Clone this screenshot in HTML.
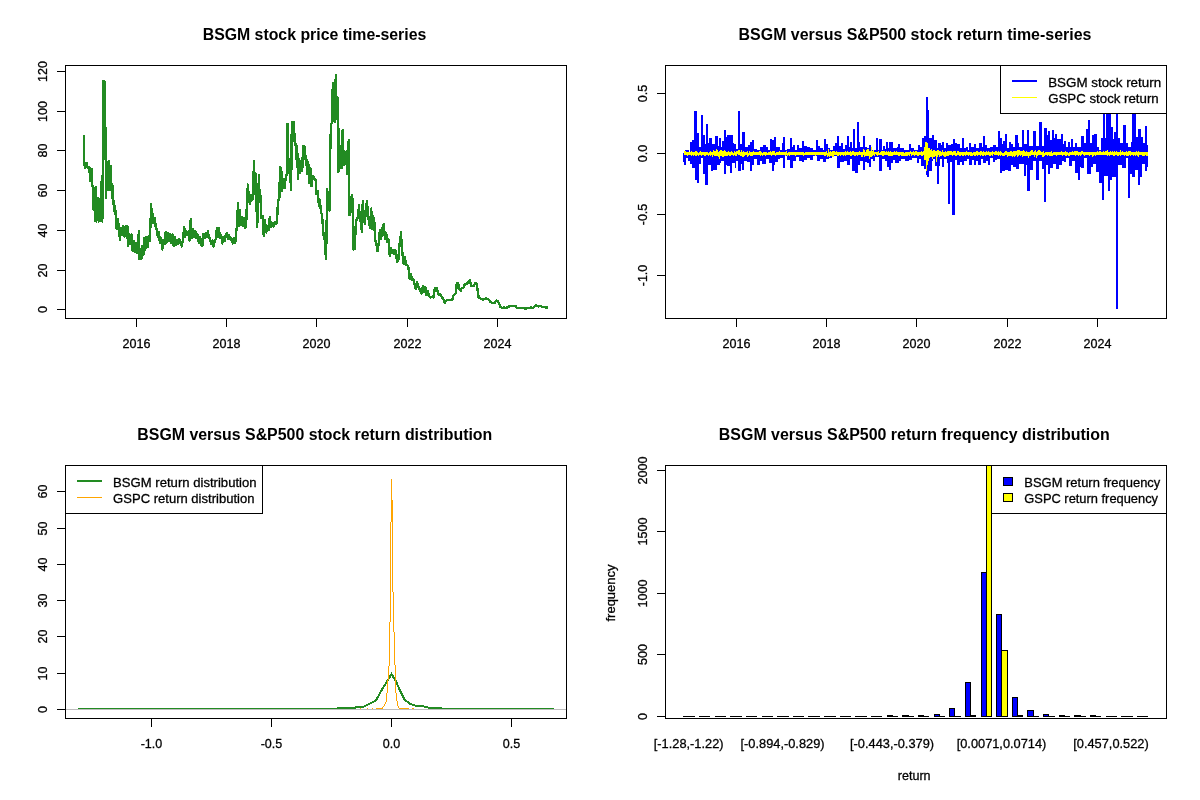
<!DOCTYPE html>
<html lang="en"><head><meta charset="utf-8"><title>BSGM versus S&amp;P500</title>
<style>html,body{margin:0;padding:0;background:#fff}svg{display:block}text{font-family:"Liberation Sans", sans-serif;fill:#000}.t{font-size:16px;font-weight:bold;text-anchor:middle}.a{font-size:13.6px;text-anchor:middle;stroke:#000;stroke-width:.3px}.l{font-size:13.6px;stroke:#000;stroke-width:.3px}.k{stroke:#000;stroke-width:1;fill:none;shape-rendering:crispEdges}</style></head><body>
<svg width="1200" height="800" viewBox="0 0 1200 800">
<rect x="0" y="0" width="1200" height="800" fill="#fff"/>
<text class="t" x="314.5" y="39.6" textLength="223.61" lengthAdjust="spacingAndGlyphs">BSGM stock price time-series</text>
<path d="M84.0 135.1 L84.0 159.5 L84.9 167.7 L86.7 163.3 L87.6 167.7 L89.4 167.5 L90.3 181.2 L92.1 169.3 L91.8 185.7 L93.0 185.8 L93.6 209.7 L94.5 200.8 L95.1 221.4 L95.7 187.0 L96.3 221.4 L97.5 197.8 L98.7 221.4 L99.3 199.3 L99.9 221.4 L100.8 212.0 L101.7 181.0 L102.3 221.4 L102.9 155.0 L103.5 80.8 L104.7 81.5 L105.3 125.0 L105.6 150.5 L106.2 198.4 L106.8 161.8 L108.0 190.2 L108.9 161.0 L109.8 190.2 L110.7 166.3 L111.6 190.9 L112.5 185.8 L112.8 203.7 L114.0 200.8 L114.9 214.2 L115.8 211.3 L116.7 228.9 L117.9 218.8 L119.1 230.0 L120.0 240.4 L120.9 227.8 L122.1 235.2 L123.3 226.3 L124.5 236.7 L125.7 226.3 L126.9 238.2 L127.5 226.3 L128.1 246.4 L129.3 233.8 L130.5 244.2 L131.7 234.5 L132.6 250.9 L133.8 241.3 L135.0 251.7 L136.2 242.8 L137.1 253.2 L138.0 248.0 L138.9 230.8 L139.5 259.2 L140.7 248.8 L141.3 259.2 L142.2 245.8 L143.4 254.7 L144.0 238.3 L145.2 250.2 L146.4 236.8 L147.6 247.2 L148.8 236.0 L149.7 241.2 L150.6 221.7 L151.2 203.8 L151.8 223.2 L152.7 214.3 L153.9 223.2 L154.8 218.0 L155.7 227.0 L156.9 230.0 L157.8 236.7 L159.0 232.3 L159.9 242.7 L161.1 238.3 L162.3 249.4 L163.5 239.8 L164.7 244.2 L165.6 232.3 L166.5 242.7 L167.7 233.0 L168.9 241.2 L170.1 234.5 L171.3 242.7 L172.5 234.5 L173.7 245.7 L174.6 236.8 L175.8 244.9 L177.0 239.8 L178.2 244.2 L179.4 239.0 L180.6 242.0 L181.8 246.4 L183.0 239.0 L184.2 227.0 L185.1 236.7 L186.3 230.8 L187.5 235.2 L188.7 231.5 L189.6 240.4 L190.8 218.8 L191.7 238.2 L192.9 229.3 L194.1 236.7 L195.3 230.8 L196.5 238.2 L197.7 234.5 L198.9 242.7 L200.1 236.8 L201.3 245.0 L202.5 245.7 L203.4 233.8 L204.6 238.2 L205.8 233.0 L207.0 236.7 L207.9 230.8 L208.8 238.2 L210.0 238.3 L211.2 244.2 L212.4 240.5 L213.6 246.4 L214.8 240.5 L216.0 239.0 L216.9 227.8 L217.8 236.7 L219.0 228.5 L219.9 238.2 L221.1 235.3 L222.3 243.4 L223.5 236.8 L224.7 241.2 L225.9 234.5 L226.8 233.0 L228.0 238.9 L229.2 235.3 L230.4 239.7 L231.6 238.3 L232.8 243.4 L234.0 238.3 L235.2 242.7 L236.4 230.0 L237.3 224.0 L237.9 203.0 L238.8 226.2 L239.7 209.8 L240.9 224.7 L241.8 217.3 L243.0 226.2 L244.2 218.0 L245.4 227.7 L246.3 221.0 L247.0 201.0 L247.9 184.5 L248.8 199.5 L250.0 203.9 L251.2 195.0 L252.4 199.4 L253.3 192.7 L253.9 161.3 L254.8 194.2 L255.4 173.3 L256.3 198.0 L257.2 227.2 L258.1 199.5 L259.0 175.5 L259.6 201.7 L260.5 195.8 L261.4 218.2 L262.6 216.0 L263.8 236.2 L265.0 220.5 L266.2 232.4 L267.4 225.8 L268.6 230.2 L269.8 216.8 L271.0 227.2 L272.2 222.8 L273.4 226.4 L274.6 222.0 L275.8 224.2 L277.0 222.0 L277.6 208.5 L278.5 199.5 L279.4 198.0 L280.0 167.3 L281.2 168.0 L282.1 191.2 L283.3 179.3 L284.5 188.2 L285.7 177.7 L286.9 174.0 L286.9 173.5 L287.5 124.0 L288.4 172.7 L289.3 159.3 L290.2 175.0 L291.1 189.6 L291.7 134.5 L292.6 121.8 L293.8 121.7 L294.7 142.0 L295.6 143.5 L296.5 159.2 L297.1 145.8 L298.0 178.7 L299.2 159.3 L300.1 172.7 L301.0 160.8 L302.2 171.2 L303.1 146.5 L304.3 145.8 L305.2 159.2 L306.1 156.3 L307.3 174.2 L308.2 162.3 L309.4 183.2 L310.3 168.3 L311.5 186.2 L312.4 175.8 L313.6 176.5 L314.8 179.5 L315.7 180.0 L316.6 194.2 L317.8 191.3 L319.0 206.2 L319.9 200.3 L321.1 213.0 L322.0 214.5 L323.2 231.0 L324.1 239.2 L325.0 239.3 L325.9 258.7 L326.5 237.0 L327.1 189.0 L327.7 209.2 L328.6 207.8 L329.5 210.7 L330.1 156.0 L331.0 124.0 L332.2 122.5 L332.8 82.8 L334.0 82.7 L334.6 121.7 L335.8 75.0 L336.4 118.7 L337.3 97.0 L338.2 100.7 L338.5 171.9 L339.7 167.5 L340.6 145.8 L341.8 168.2 L342.7 130.0 L343.6 165.2 L344.5 151.7 L346.0 151.8 L347.2 174.2 L347.8 146.5 L349.0 139.8 L349.0 214.5 L350.2 215.2 L351.1 199.5 L352.0 195.0 L352.9 202.5 L353.5 249.7 L354.7 249.0 L355.9 222.0 L357.1 218.2 L358.3 217.5 L358.9 204.8 L359.8 217.5 L361.0 223.5 L361.9 231.7 L362.8 201.0 L363.7 216.0 L364.9 224.2 L365.8 208.5 L367.0 201.0 L367.9 214.5 L368.8 220.5 L370.0 227.9 L371.2 208.5 L372.1 228.7 L373.0 216.0 L374.2 219.0 L375.1 240.7 L376.0 240.8 L377.5 251.2 L378.7 243.0 L379.9 230.3 L381.1 239.2 L382.3 228.0 L383.8 224.3 L385.0 239.2 L386.2 233.3 L387.4 242.2 L388.6 239.3 L389.8 255.7 L391.0 248.3 L392.2 252.7 L393.4 249.8 L394.6 254.2 L395.8 250.5 L397.0 261.7 L398.2 261.0 L399.4 245.3 L399.2 244.2 L400.1 243.5 L401.0 232.3 L401.6 245.0 L402.5 254.0 L403.7 263.7 L404.9 257.0 L406.1 265.2 L407.3 265.3 L408.5 267.5 L409.7 278.7 L410.9 274.3 L412.1 280.2 L413.3 278.8 L414.5 284.0 L415.7 289.2 L416.9 281.8 L417.8 284.0 L419.0 288.5 L420.2 290.0 L421.4 293.7 L422.9 286.3 L424.1 292.2 L425.3 287.0 L426.5 295.2 L427.7 290.8 L428.9 296.0 L430.4 297.4 L431.9 296.8 L433.4 297.4 L434.9 287.7 L436.4 287.7 L437.6 291.5 L438.8 295.2 L440.3 293.8 L441.8 297.5 L443.3 299.0 L444.8 302.7 L446.3 300.5 L447.8 299.8 L449.3 299.7 L450.8 299.8 L452.3 299.7 L453.2 296.0 L454.7 294.5 L455.9 293.0 L456.8 283.3 L458.0 283.2 L459.2 288.5 L460.7 290.7 L461.9 287.8 L463.4 287.7 L464.9 284.0 L466.4 284.0 L467.6 283.2 L468.8 281.0 L470.0 280.3 L471.2 286.2 L472.4 286.3 L473.6 286.2 L475.1 283.2 L476.6 283.3 L477.5 290.0 L478.7 297.5 L480.2 298.2 L481.7 299.0 L483.2 299.7 L484.7 299.0 L486.2 298.2 L487.7 299.0 L489.2 299.7 L490.4 301.9 L491.9 302.8 L493.4 302.7 L494.9 302.7 L496.4 300.5 L497.6 301.2 L499.1 303.5 L500.6 307.2 L502.1 308.0 L503.9 307.5 L506.0 308.0 L508.1 306.9 L509.3 306.5 L511.4 306.0 L513.5 305.7 L515.6 305.8 L516.8 308.3 L518.0 308.2 L519.5 308.3 L521.1 308.0 L522.5 308.0 L524.0 308.2 L525.5 308.5 L526.7 308.3 L528.5 308.0 L529.7 307.7 L531.5 307.5 L533.3 308.0 L535.1 305.7 L536.6 305.5 L538.4 306.5 L540.5 306.0 L542.6 307.0 L544.4 307.2 L546.2 307.4 L547.7 307.7" fill="none" stroke="#228B22" stroke-width="2.4" stroke-linejoin="round" shape-rendering="crispEdges"/>
<rect class="k" x="65.5" y="65.5" width="501" height="253"/>
<path class="k" d="M136.5 318.5H497.5M136.5 318.5v8.5M226.5 318.5v8.5M316.5 318.5v8.5M407.5 318.5v8.5M497.5 318.5v8.5"/>
<text class="a" x="136.5" y="348" textLength="27.91" lengthAdjust="spacingAndGlyphs">2016</text>
<text class="a" x="226.5" y="348" textLength="27.91" lengthAdjust="spacingAndGlyphs">2018</text>
<text class="a" x="316.5" y="348" textLength="27.91" lengthAdjust="spacingAndGlyphs">2020</text>
<text class="a" x="407.5" y="348" textLength="27.91" lengthAdjust="spacingAndGlyphs">2022</text>
<text class="a" x="497.5" y="348" textLength="27.91" lengthAdjust="spacingAndGlyphs">2024</text>
<path class="k" d="M65.5 309.5V71.5M65.5 309.5h-8.5M65.5 270.5h-8.5M65.5 230.5h-8.5M65.5 190.5h-8.5M65.5 150.5h-8.5M65.5 111.5h-8.5M65.5 71.5h-8.5"/>
<text class="a" transform="translate(47 309.5) rotate(-90)" textLength="6.98" lengthAdjust="spacingAndGlyphs">0</text>
<text class="a" transform="translate(47 270.5) rotate(-90)" textLength="13.95" lengthAdjust="spacingAndGlyphs">20</text>
<text class="a" transform="translate(47 230.5) rotate(-90)" textLength="13.95" lengthAdjust="spacingAndGlyphs">40</text>
<text class="a" transform="translate(47 190.5) rotate(-90)" textLength="13.95" lengthAdjust="spacingAndGlyphs">60</text>
<text class="a" transform="translate(47 150.5) rotate(-90)" textLength="13.95" lengthAdjust="spacingAndGlyphs">80</text>
<text class="a" transform="translate(47 111.5) rotate(-90)" textLength="20.93" lengthAdjust="spacingAndGlyphs">100</text>
<text class="a" transform="translate(47 71.5) rotate(-90)" textLength="20.93" lengthAdjust="spacingAndGlyphs">120</text>
<text class="t" x="915" y="39.6" textLength="352.87" lengthAdjust="spacingAndGlyphs">BSGM versus S&amp;P500 stock return time-series</text>
<path d="M683.5 153V162M684.5 153V165M685.5 150V165M686.5 150V158M687.5 150V158M688.5 150V161M689.5 152V161M690.5 142V164M691.5 142V164M692.5 140V168M693.5 140V168M694.5 111V168M695.5 111V180M696.5 111V180M697.5 133V183M698.5 133V183M699.5 147V164M700.5 147V164M701.5 115V158M702.5 115V158M703.5 135V174M704.5 135V174M705.5 144V185M706.5 124V185M707.5 124V185M708.5 143V165M709.5 138V165M710.5 138V165M711.5 138V171M712.5 144V171M713.5 144V170M714.5 144V170M715.5 136V170M716.5 136V170M717.5 136V165M718.5 146V165M719.5 138V165M720.5 138V163M721.5 147V161M722.5 141V161M723.5 141V161M724.5 130V174M725.5 130V174M726.5 137V165M727.5 135V166M728.5 135V166M729.5 135V166M730.5 135V173M731.5 135V173M732.5 135V163M733.5 143V163M734.5 144V163M735.5 144V168M736.5 149V161M737.5 149V161M738.5 111V171M739.5 111V171M740.5 144V171M741.5 144V164M742.5 132V170M743.5 132V170M744.5 132V161M745.5 147V161M746.5 147V161M747.5 147V162M748.5 145V162M749.5 145V162M750.5 142V171M751.5 142V171M752.5 140V165M753.5 140V165M754.5 149V159M755.5 149V159M756.5 149V159M757.5 150V165M758.5 150V165M759.5 150V165M760.5 147V161M761.5 147V161M762.5 147V164M763.5 145V164M764.5 145V164M765.5 145V164M766.5 147V159M767.5 147V159M768.5 150V159M769.5 150V163M770.5 139V163M771.5 139V163M772.5 140V171M773.5 140V171M774.5 137V165M775.5 137V162M776.5 147V162M777.5 147V162M778.5 147V159M779.5 147V159M780.5 150V158M781.5 150V158M782.5 143V158M783.5 137V168M784.5 137V168M785.5 150V156M786.5 150V156M787.5 149V160M788.5 149V160M789.5 149V160M790.5 138V168M791.5 138V168M792.5 147V168M793.5 145V161M794.5 145V161M795.5 150V161M796.5 150V157M797.5 145V157M798.5 145V157M799.5 148V161M800.5 148V161M801.5 148V161M802.5 141V162M803.5 141V162M804.5 146V160M805.5 146V160M806.5 146V160M807.5 147V158M808.5 147V158M809.5 147V158M810.5 148V160M811.5 148V160M812.5 148V160M813.5 150V156M814.5 150V156M815.5 150V156M816.5 140V156M817.5 140V161M818.5 146V161M819.5 146V161M820.5 148V159M821.5 148V159M822.5 148V159M823.5 150V162M824.5 139V162M825.5 139V162M826.5 144V159M827.5 144V159M828.5 148V159M829.5 148V158M830.5 150V158M831.5 150V158M832.5 150V156M833.5 146V156M834.5 146V156M835.5 143V156M836.5 143V156M837.5 136V168M838.5 136V168M839.5 146V168M840.5 146V162M841.5 143V162M842.5 143V162M843.5 149V162M844.5 149V161M845.5 145V161M846.5 145V161M847.5 136V165M848.5 136V165M849.5 147V165M850.5 142V159M851.5 142V159M852.5 148V171M853.5 129V171M854.5 129V171M855.5 148V173M856.5 148V173M857.5 122V173M858.5 122V165M859.5 142V165M860.5 147V161M861.5 147V161M862.5 147V161M863.5 136V170M864.5 136V170M865.5 147V162M866.5 147V162M867.5 148V163M868.5 148V163M869.5 145V167M870.5 145V167M871.5 150V159M872.5 150V159M873.5 150V161M874.5 150V161M875.5 150V157M876.5 138V157M877.5 138V157M878.5 150V157M879.5 139V171M880.5 139V171M881.5 139V171M882.5 150V159M883.5 146V159M884.5 146V159M885.5 149V161M886.5 142V161M887.5 142V167M888.5 148V167M889.5 142V170M890.5 142V170M891.5 142V163M892.5 142V163M893.5 148V160M894.5 148V160M895.5 148V163M896.5 148V163M897.5 147V163M898.5 144V163M899.5 144V161M900.5 148V161M901.5 148V159M902.5 148V159M903.5 148V159M904.5 150V159M905.5 150V161M906.5 150V161M907.5 150V161M908.5 150V161M909.5 144V160M910.5 144V160M911.5 148V160M912.5 148V158M913.5 148V158M914.5 150V158M915.5 150V158M916.5 150V158M917.5 150V163M918.5 145V163M919.5 145V159M920.5 147V159M921.5 147V166M922.5 138V166M923.5 138V166M924.5 136V169M925.5 136V169M926.5 97V175M927.5 97V177M928.5 110V177M929.5 138V171M930.5 138V171M931.5 138V171M932.5 135V161M933.5 135V159M934.5 140V159M935.5 140V166M936.5 140V166M937.5 148V184M938.5 143V184M939.5 143V166M940.5 143V159M941.5 145V159M942.5 142V167M943.5 142V167M944.5 148V159M945.5 148V159M946.5 143V159M947.5 143V163M948.5 145V204M949.5 145V204M950.5 145V162M951.5 144V162M952.5 144V215M953.5 139V215M954.5 139V215M955.5 143V160M956.5 143V160M957.5 144V165M958.5 144V165M959.5 144V165M960.5 148V162M961.5 148V162M962.5 138V165M963.5 138V165M964.5 148V161M965.5 148V161M966.5 147V161M967.5 147V159M968.5 150V159M969.5 143V165M970.5 143V165M971.5 147V165M972.5 147V160M973.5 147V160M974.5 144V165M975.5 144V165M976.5 148V161M977.5 148V161M978.5 148V165M979.5 143V165M980.5 143V165M981.5 143V159M982.5 147V159M983.5 136V163M984.5 136V163M985.5 145V163M986.5 145V161M987.5 148V161M988.5 148V165M989.5 148V165M990.5 147V158M991.5 147V158M992.5 147V158M993.5 145V162M994.5 145V162M995.5 145V160M996.5 147V160M997.5 147V159M998.5 131V159M999.5 131V159M1000.5 138V173M1001.5 138V173M1002.5 144V171M1003.5 141V171M1004.5 141V171M1005.5 134V170M1006.5 134V170M1007.5 148V170M1008.5 148V171M1009.5 142V171M1010.5 142V171M1011.5 144V165M1012.5 144V165M1013.5 147V167M1014.5 147V167M1015.5 135V167M1016.5 135V169M1017.5 135V169M1018.5 143V169M1019.5 147V164M1020.5 147V164M1021.5 147V164M1022.5 130V164M1023.5 130V164M1024.5 144V176M1025.5 144V176M1026.5 144V165M1027.5 130V191M1028.5 130V191M1029.5 146V191M1030.5 146V170M1031.5 146V170M1032.5 146V170M1033.5 131V161M1034.5 131V161M1035.5 131V161M1036.5 146V180M1037.5 146V180M1038.5 146V180M1039.5 122V161M1040.5 122V161M1041.5 122V161M1042.5 146V169M1043.5 146V169M1044.5 128V202M1045.5 128V202M1046.5 128V165M1047.5 135V165M1048.5 131V174M1049.5 131V174M1050.5 140V168M1051.5 140V168M1052.5 130V168M1053.5 130V164M1054.5 138V164M1055.5 134V164M1056.5 134V169M1057.5 139V169M1058.5 139V169M1059.5 139V165M1060.5 139V165M1061.5 134V165M1062.5 134V161M1063.5 144V161M1064.5 141V162M1065.5 141V162M1066.5 147V158M1067.5 147V158M1068.5 142V158M1069.5 142V166M1070.5 147V166M1071.5 139V166M1072.5 139V161M1073.5 147V161M1074.5 147V161M1075.5 143V173M1076.5 143V173M1077.5 147V173M1078.5 147V180M1079.5 147V180M1080.5 147V167M1081.5 136V168M1082.5 136V168M1083.5 136V168M1084.5 143V158M1085.5 143V158M1086.5 129V158M1087.5 129V174M1088.5 120V174M1089.5 120V174M1090.5 143V174M1091.5 143V167M1092.5 135V167M1093.5 135V164M1094.5 134V164M1095.5 134V164M1096.5 134V172M1097.5 147V172M1098.5 147V172M1099.5 150V183M1100.5 150V183M1101.5 138V183M1102.5 138V200M1103.5 110V200M1104.5 110V176M1105.5 138V176M1106.5 104V176M1107.5 104V176M1108.5 104V191M1109.5 104V191M1110.5 104V180M1111.5 127V180M1112.5 127V177M1113.5 139V177M1114.5 132V177M1115.5 132V177M1116.5 73V309M1117.5 73V309M1118.5 138V165M1119.5 138V165M1120.5 143V165M1121.5 143V165M1122.5 143V168M1123.5 125V168M1124.5 125V168M1125.5 125V168M1126.5 143V158M1127.5 143V158M1128.5 147V198M1129.5 147V198M1130.5 147V174M1131.5 142V174M1132.5 101V177M1133.5 101V177M1134.5 101V177M1135.5 101V170M1136.5 137V170M1137.5 137V170M1138.5 129V185M1139.5 129V185M1140.5 129V177M1141.5 137V177M1142.5 137V164M1143.5 143V164M1144.5 143V164M1145.5 126V171M1146.5 126V171M1147.5 145V167" stroke="#0000FF" stroke-width="1" fill="none" shape-rendering="crispEdges"/>
<path d="M684.5 151V155M685.5 151V155M686.5 152V155M687.5 152V156M688.5 152V155M689.5 152V155M690.5 152V155M691.5 151V156M692.5 152V155M693.5 152V156M694.5 152V155M695.5 151V156M696.5 151V156M697.5 152V155M698.5 153V156M699.5 152V155M700.5 151V155M701.5 152V156M702.5 152V155M703.5 152V155M704.5 152V156M705.5 152V156M706.5 152V155M707.5 152V155M708.5 153V156M709.5 152V155M710.5 151V156M711.5 152V155M712.5 152V157M713.5 150V155M714.5 151V156M715.5 151V156M716.5 149V156M717.5 150V156M718.5 152V157M719.5 151V159M720.5 150V156M721.5 150V156M722.5 151V157M723.5 151V157M724.5 150V156M725.5 151V156M726.5 152V156M727.5 152V156M728.5 151V155M729.5 152V156M730.5 152V156M731.5 151V155M732.5 152V155M733.5 153V156M734.5 151V155M735.5 152V156M736.5 151V156M737.5 151V154M738.5 150V155M739.5 150V155M740.5 152V156M741.5 150V156M742.5 152V157M743.5 151V157M744.5 152V156M745.5 152V155M746.5 152V155M747.5 151V157M748.5 153V156M749.5 151V155M750.5 152V156M751.5 152V156M752.5 152V156M753.5 151V155M754.5 152V155M755.5 152V155M756.5 152V155M757.5 152V155M758.5 152V155M759.5 151V155M760.5 151V156M761.5 152V155M762.5 153V156M763.5 152V155M764.5 152V155M765.5 152V156M766.5 152V155M767.5 153V155M768.5 152V155M769.5 152V155M770.5 151V155M771.5 152V156M772.5 151V155M773.5 151V155M774.5 151V155M775.5 153V156M776.5 152V155M777.5 152V155M778.5 152V155M779.5 151V155M780.5 152V155M781.5 152V155M782.5 152V155M783.5 152V155M784.5 152V155M785.5 152V156M786.5 151V155M787.5 153V156M788.5 152V155M789.5 152V156M790.5 152V155M791.5 152V155M792.5 152V155M793.5 152V155M794.5 152V155M795.5 152V156M796.5 152V155M797.5 152V155M798.5 152V155M799.5 152V155M800.5 152V155M801.5 152V155M802.5 152V155M803.5 152V156M804.5 153V155M805.5 152V155M806.5 152V155M807.5 152V155M808.5 152V155M809.5 152V155M810.5 152V155M811.5 152V155M812.5 152V155M813.5 152V155M814.5 152V155M815.5 152V156M816.5 152V155M817.5 152V155M818.5 152V155M819.5 152V155M820.5 152V155M821.5 152V155M822.5 152V155M823.5 152V155M824.5 152V156M825.5 152V156M826.5 151V155M827.5 153V157M828.5 149V156M829.5 152V157M830.5 151V156M831.5 152V156M832.5 151V157M833.5 151V157M834.5 151V155M835.5 152V155M836.5 151V155M837.5 152V156M838.5 152V156M839.5 152V155M840.5 152V156M841.5 152V155M842.5 152V155M843.5 152V156M844.5 152V155M845.5 151V156M846.5 152V155M847.5 151V155M848.5 152V155M849.5 152V155M850.5 151V156M851.5 152V156M852.5 151V155M853.5 151V155M854.5 152V156M855.5 152V156M856.5 152V155M857.5 152V156M858.5 152V155M859.5 151V155M860.5 152V155M861.5 152V157M862.5 152V157M863.5 149V155M864.5 150V157M865.5 152V156M866.5 150V156M867.5 149V156M868.5 149V156M869.5 151V159M870.5 151V157M871.5 147V157M872.5 151V156M873.5 150V155M874.5 152V156M875.5 152V154M876.5 152V155M877.5 152V156M878.5 151V155M879.5 153V155M880.5 152V155M881.5 151V155M882.5 151V156M883.5 151V156M884.5 151V155M885.5 152V155M886.5 151V155M887.5 152V155M888.5 151V156M889.5 152V156M890.5 151V156M891.5 152V156M892.5 152V156M893.5 152V155M894.5 151V155M895.5 152V155M896.5 151V155M897.5 152V155M898.5 152V156M899.5 152V156M900.5 152V155M901.5 152V156M902.5 152V156M903.5 152V156M904.5 153V156M905.5 152V156M906.5 152V156M907.5 152V156M908.5 152V155M909.5 152V156M910.5 151V154M911.5 152V156M912.5 152V155M913.5 151V155M914.5 152V156M915.5 151V155M916.5 151V155M917.5 152V156M918.5 152V156M919.5 152V155M920.5 152V155M921.5 151V156M922.5 152V156M923.5 151V155M924.5 147V160M925.5 142V160M926.5 142V171M927.5 143V165M928.5 148V161M929.5 148V158M930.5 150V157M931.5 149V157M932.5 151V159M933.5 150V157M934.5 150V157M935.5 151V156M936.5 151V162M937.5 150V157M938.5 150V155M939.5 151V157M940.5 151V156M941.5 152V156M942.5 150V155M943.5 152V156M944.5 152V157M945.5 151V157M946.5 152V156M947.5 151V156M948.5 151V156M949.5 151V155M950.5 151V155M951.5 151V155M952.5 152V156M953.5 151V155M954.5 151V155M955.5 151V156M956.5 153V156M957.5 151V155M958.5 151V155M959.5 152V156M960.5 152V156M961.5 152V155M962.5 152V156M963.5 152V156M964.5 152V155M965.5 152V156M966.5 151V155M967.5 152V155M968.5 152V156M969.5 152V155M970.5 152V156M971.5 152V156M972.5 153V156M973.5 152V155M974.5 152V156M975.5 152V156M976.5 151V155M977.5 151V156M978.5 152V155M979.5 152V155M980.5 151V156M981.5 151V155M982.5 152V156M983.5 151V156M984.5 152V155M985.5 152V156M986.5 151V155M987.5 152V155M988.5 151V155M989.5 152V156M990.5 152V156M991.5 152V155M992.5 151V156M993.5 152V154M994.5 152V155M995.5 151V155M996.5 151V155M997.5 152V155M998.5 151V156M999.5 152V155M1000.5 151V156M1001.5 152V155M1002.5 153V156M1003.5 153V156M1004.5 152V156M1005.5 151V155M1006.5 151V155M1007.5 152V157M1008.5 152V156M1009.5 152V156M1010.5 151V156M1011.5 151V156M1012.5 152V157M1013.5 151V156M1014.5 151V157M1015.5 151V156M1016.5 151V155M1017.5 150V157M1018.5 150V156M1019.5 150V155M1020.5 151V156M1021.5 151V155M1022.5 151V157M1023.5 150V156M1024.5 151V156M1025.5 152V156M1026.5 151V156M1027.5 152V156M1028.5 152V158M1029.5 152V156M1030.5 151V156M1031.5 150V155M1032.5 150V155M1033.5 152V155M1034.5 151V157M1035.5 150V155M1036.5 152V158M1037.5 151V156M1038.5 150V155M1039.5 150V155M1040.5 151V155M1041.5 152V155M1042.5 152V157M1043.5 151V157M1044.5 153V156M1045.5 152V155M1046.5 152V155M1047.5 152V156M1048.5 152V155M1049.5 152V156M1050.5 152V156M1051.5 151V156M1052.5 153V156M1053.5 152V155M1054.5 152V155M1055.5 152V155M1056.5 152V156M1057.5 152V155M1058.5 152V155M1059.5 152V155M1060.5 152V155M1061.5 151V155M1062.5 152V156M1063.5 152V155M1064.5 152V155M1065.5 151V156M1066.5 152V156M1067.5 152V155M1068.5 153V156M1069.5 152V156M1070.5 152V155M1071.5 152V155M1072.5 151V155M1073.5 152V155M1074.5 151V155M1075.5 151V156M1076.5 151V155M1077.5 151V155M1078.5 152V156M1079.5 152V155M1080.5 152V156M1081.5 151V155M1082.5 151V154M1083.5 152V155M1084.5 152V156M1085.5 152V155M1086.5 152V155M1087.5 152V155M1088.5 152V155M1089.5 152V156M1090.5 152V155M1091.5 152V155M1092.5 152V157M1093.5 152V156M1094.5 152V155M1095.5 152V156M1096.5 152V155M1097.5 151V155M1098.5 152V155M1099.5 151V155M1100.5 151V155M1101.5 152V155M1102.5 152V155M1103.5 151V155M1104.5 152V155M1105.5 151V155M1106.5 151V155M1107.5 150V156M1108.5 152V155M1109.5 152V156M1110.5 151V155M1111.5 152V155M1112.5 151V155M1113.5 152V156M1114.5 151V156M1115.5 152V155M1116.5 151V155M1117.5 152V156M1118.5 152V156M1119.5 152V155M1120.5 150V156M1121.5 152V155M1122.5 151V155M1123.5 152V155M1124.5 152V156M1125.5 152V155M1126.5 151V156M1127.5 152V156M1128.5 151V156M1129.5 151V155M1130.5 151V156M1131.5 152V155M1132.5 152V155M1133.5 152V156M1134.5 152V155M1135.5 152V156M1136.5 151V155M1137.5 152V156M1138.5 151V157M1139.5 152V155M1140.5 152V155M1141.5 152V155M1142.5 152V156M1143.5 152V156M1144.5 152V156M1145.5 152V155M1146.5 152V156M1147.5 152V156" stroke="#FFFF00" stroke-width="1" fill="none" shape-rendering="crispEdges"/>
<rect x="1000.5" y="65.5" width="166" height="48" fill="#fff" stroke="#000" shape-rendering="crispEdges"/>
<path d="M1012 81H1037" stroke="#0000FF" stroke-width="2" shape-rendering="crispEdges"/>
<path d="M1012 97.5H1037" stroke="#FFFF00" stroke-width="1" shape-rendering="crispEdges"/>
<text class="l" x="1048.2" y="87" textLength="112.89" lengthAdjust="spacingAndGlyphs">BSGM stock return</text>
<text class="l" x="1048.2" y="103" textLength="110.54" lengthAdjust="spacingAndGlyphs">GSPC stock return</text>
<rect class="k" x="665.5" y="65.5" width="501" height="253"/>
<path class="k" d="M736.5 318.5H1097.5M736.5 318.5v8.5M826.5 318.5v8.5M916.5 318.5v8.5M1007.5 318.5v8.5M1097.5 318.5v8.5"/>
<text class="a" x="736.5" y="348" textLength="27.91" lengthAdjust="spacingAndGlyphs">2016</text>
<text class="a" x="826.5" y="348" textLength="27.91" lengthAdjust="spacingAndGlyphs">2018</text>
<text class="a" x="916.5" y="348" textLength="27.91" lengthAdjust="spacingAndGlyphs">2020</text>
<text class="a" x="1007.5" y="348" textLength="27.91" lengthAdjust="spacingAndGlyphs">2022</text>
<text class="a" x="1097.5" y="348" textLength="27.91" lengthAdjust="spacingAndGlyphs">2024</text>
<path class="k" d="M665.5 275.5V93.5M665.5 275.5h-8.5M665.5 214.5h-8.5M665.5 153.5h-8.5M665.5 93.5h-8.5"/>
<text class="a" transform="translate(647 275.5) rotate(-90)" textLength="21.62" lengthAdjust="spacingAndGlyphs">-1.0</text>
<text class="a" transform="translate(647 214.5) rotate(-90)" textLength="21.62" lengthAdjust="spacingAndGlyphs">-0.5</text>
<text class="a" transform="translate(647 153.5) rotate(-90)" textLength="17.44" lengthAdjust="spacingAndGlyphs">0.0</text>
<text class="a" transform="translate(647 93.5) rotate(-90)" textLength="17.44" lengthAdjust="spacingAndGlyphs">0.5</text>
<text class="t" x="314.8" y="439.6" textLength="354.92" lengthAdjust="spacingAndGlyphs">BSGM versus S&amp;P500 stock return distribution</text>
<path d="M77.5 709.0 L338.0 709.0 L338.0 708.0 L355.0 708.0 L355.6 707.0 L363.5 706.7 L375.9 700.5 L381.5 690.4 L387.2 681.2 L391.5 674.0 L396.0 681.2 L399.9 690.4 L404.4 699.4 L410.0 703.9 L416.0 705.8 L422.4 706.1 L428.4 707.6 L429.0 708.0 L441.0 708.0 L441.0 709.0 L554.0 709.0" fill="none" stroke="#228B22" stroke-width="2" shape-rendering="crispEdges"/>
<path d="M391.5 479V522M390.5 522V622M389.5 622V666M388.5 666V680M387.5 680V693M386.5 693V702M385.5 702V704M384.5 704V706M383.5 706V707M382.5 707V708M392.5 500V592M393.5 592V632M394.5 632V665M395.5 665V693M396.5 693V701M397.5 701V706M398.5 706V708M376 708.5H383M399 708.5H409M412 708.5H414M360 708.5H361M367 708.5H368M372 708.5H373" fill="none" stroke="#FFA500" stroke-width="1" shape-rendering="crispEdges"/>
<path d="M66 709.5H566" stroke="#BEBEBE" stroke-width="1" shape-rendering="crispEdges"/>
<rect x="65.5" y="465.5" width="197" height="48" fill="#fff" stroke="#000" shape-rendering="crispEdges"/>
<path d="M77 481H102" stroke="#228B22" stroke-width="2" shape-rendering="crispEdges"/>
<path d="M77 497.5H102" stroke="#FFA500" stroke-width="1" shape-rendering="crispEdges"/>
<text class="l" x="113.1" y="487" textLength="143.47" lengthAdjust="spacingAndGlyphs">BSGM return distribution</text>
<text class="l" x="113.1" y="503" textLength="141.31" lengthAdjust="spacingAndGlyphs">GSPC return distribution</text>
<rect class="k" x="65.5" y="465.5" width="501" height="253"/>
<path class="k" d="M151.5 718.5H511.5M151.5 718.5v8.5M271.5 718.5v8.5M391.5 718.5v8.5M511.5 718.5v8.5"/>
<text class="a" x="151.5" y="748" textLength="21.62" lengthAdjust="spacingAndGlyphs">-1.0</text>
<text class="a" x="271.5" y="748" textLength="21.62" lengthAdjust="spacingAndGlyphs">-0.5</text>
<text class="a" x="391.5" y="748" textLength="17.44" lengthAdjust="spacingAndGlyphs">0.0</text>
<text class="a" x="511.5" y="748" textLength="17.44" lengthAdjust="spacingAndGlyphs">0.5</text>
<path class="k" d="M65.5 709.5V491.5M65.5 709.5h-8.5M65.5 673.5h-8.5M65.5 636.5h-8.5M65.5 600.5h-8.5M65.5 564.5h-8.5M65.5 528.5h-8.5M65.5 491.5h-8.5"/>
<text class="a" transform="translate(47 709.5) rotate(-90)" textLength="6.98" lengthAdjust="spacingAndGlyphs">0</text>
<text class="a" transform="translate(47 673.5) rotate(-90)" textLength="13.95" lengthAdjust="spacingAndGlyphs">10</text>
<text class="a" transform="translate(47 636.5) rotate(-90)" textLength="13.95" lengthAdjust="spacingAndGlyphs">20</text>
<text class="a" transform="translate(47 600.5) rotate(-90)" textLength="13.95" lengthAdjust="spacingAndGlyphs">30</text>
<text class="a" transform="translate(47 564.5) rotate(-90)" textLength="13.95" lengthAdjust="spacingAndGlyphs">40</text>
<text class="a" transform="translate(47 528.5) rotate(-90)" textLength="13.95" lengthAdjust="spacingAndGlyphs">50</text>
<text class="a" transform="translate(47 491.5) rotate(-90)" textLength="13.95" lengthAdjust="spacingAndGlyphs">60</text>
<text class="t" x="914.3" y="439.6" textLength="390.92" lengthAdjust="spacingAndGlyphs">BSGM versus S&amp;P500 return frequency distribution</text>
<g shape-rendering="crispEdges" stroke="#000" stroke-width="1">
<path d="M683 716.5H690"/>
<path d="M689 716.5H695"/>
<path d="M699 716.5H705"/>
<path d="M704 716.5H710"/>
<path d="M715 716.5H721"/>
<path d="M720 716.5H726"/>
<path d="M730 716.5H737"/>
<path d="M736 716.5H742"/>
<path d="M746 716.5H752"/>
<path d="M751 716.5H757"/>
<path d="M762 716.5H768"/>
<path d="M767 716.5H773"/>
<path d="M777 716.5H783"/>
<path d="M782 716.5H789"/>
<path d="M793 716.5H799"/>
<path d="M798 716.5H804"/>
<path d="M808 716.5H815"/>
<path d="M814 716.5H820"/>
<path d="M824 716.5H830"/>
<path d="M829 716.5H836"/>
<path d="M840 716.5H846"/>
<path d="M845 716.5H851"/>
<path d="M855 716.5H862"/>
<path d="M861 716.5H867"/>
<path d="M871 716.5H877"/>
<path d="M876 716.5H882"/>
<rect x="887.5" y="715.5" width="5" height="1" fill="#0000FF"/>
<path d="M892 716.5H898"/>
<rect x="902.5" y="715.5" width="6" height="1" fill="#0000FF"/>
<path d="M908 716.5H914"/>
<rect x="918.5" y="715.5" width="5" height="1" fill="#0000FF"/>
<path d="M923 716.5H929"/>
<rect x="934.5" y="714.5" width="5" height="2" fill="#0000FF"/>
<path d="M939 716.5H945"/>
<rect x="949.5" y="708.5" width="5" height="8" fill="#0000FF"/>
<path d="M954 716.5H961"/>
<rect x="965.5" y="682.5" width="5" height="34" fill="#0000FF"/>
<rect x="970.5" y="715.5" width="5" height="1" fill="#FFFF00"/>
<rect x="981.5" y="572.5" width="5" height="144" fill="#0000FF"/>
<rect x="986.5" y="465.5" width="5" height="251" fill="#FFFF00"/>
<rect x="996.5" y="614.5" width="5" height="102" fill="#0000FF"/>
<rect x="1001.5" y="650.5" width="6" height="66" fill="#FFFF00"/>
<rect x="1012.5" y="697.5" width="5" height="19" fill="#0000FF"/>
<rect x="1017.5" y="715.5" width="5" height="1" fill="#FFFF00"/>
<rect x="1027.5" y="710.5" width="6" height="6" fill="#0000FF"/>
<path d="M1033 716.5H1039"/>
<rect x="1043.5" y="714.5" width="5" height="2" fill="#0000FF"/>
<path d="M1048 716.5H1055"/>
<rect x="1059.5" y="715.5" width="5" height="1" fill="#0000FF"/>
<path d="M1064 716.5H1070"/>
<rect x="1074.5" y="715.5" width="6" height="1" fill="#0000FF"/>
<path d="M1080 716.5H1086"/>
<rect x="1090.5" y="715.5" width="5" height="1" fill="#0000FF"/>
<path d="M1095 716.5H1101"/>
<path d="M1106 716.5H1112"/>
<path d="M1111 716.5H1117"/>
<path d="M1121 716.5H1128"/>
<path d="M1127 716.5H1133"/>
<path d="M1137 716.5H1143"/>
<path d="M1142 716.5H1148"/>
</g>
<rect x="991.5" y="465.5" width="175" height="48" fill="#fff" stroke="#000" shape-rendering="crispEdges"/>
<rect x="1003.5" y="477.5" width="9" height="8" fill="#0000FF" stroke="#000" shape-rendering="crispEdges"/>
<rect x="1003.5" y="493.5" width="9" height="8" fill="#FFFF00" stroke="#000" shape-rendering="crispEdges"/>
<text class="l" x="1024.3" y="487" textLength="136.01" lengthAdjust="spacingAndGlyphs">BSGM return frequency</text>
<text class="l" x="1024.3" y="503" textLength="133.77" lengthAdjust="spacingAndGlyphs">GSPC return frequency</text>
<rect class="k" x="665.5" y="465.5" width="501" height="253"/>
<path class="k" d="M665.5 716.5V470.5M665.5 716.5h-8.5M665.5 654.5h-8.5M665.5 593.5h-8.5M665.5 531.5h-8.5M665.5 470.5h-8.5"/>
<text class="a" transform="translate(647 716.5) rotate(-90)" textLength="6.98" lengthAdjust="spacingAndGlyphs">0</text>
<text class="a" transform="translate(647 654.5) rotate(-90)" textLength="20.93" lengthAdjust="spacingAndGlyphs">500</text>
<text class="a" transform="translate(647 593.5) rotate(-90)" textLength="27.91" lengthAdjust="spacingAndGlyphs">1000</text>
<text class="a" transform="translate(647 531.5) rotate(-90)" textLength="27.91" lengthAdjust="spacingAndGlyphs">1500</text>
<text class="a" transform="translate(647 470.5) rotate(-90)" textLength="27.91" lengthAdjust="spacingAndGlyphs">2000</text>
<text class="a" x="688.676" y="748" textLength="69.75" lengthAdjust="spacingAndGlyphs">[-1.28,-1.22)</text>
<text class="a" x="782.528" y="748" textLength="84.00" lengthAdjust="spacingAndGlyphs">[-0.894,-0.829)</text>
<text class="a" x="892.022" y="748" textLength="84.00" lengthAdjust="spacingAndGlyphs">[-0.443,-0.379)</text>
<text class="a" x="1001.52" y="748" textLength="89.71" lengthAdjust="spacingAndGlyphs">[0.0071,0.0714)</text>
<text class="a" x="1111.01" y="748" textLength="75.47" lengthAdjust="spacingAndGlyphs">[0.457,0.522)</text>
<text class="a" x="914.2" y="779.7" textLength="32.77" lengthAdjust="spacingAndGlyphs">return</text>
<text class="a" transform="translate(614.8 593) rotate(-90)" textLength="57.09" lengthAdjust="spacingAndGlyphs">frequency</text>
</svg></body></html>
